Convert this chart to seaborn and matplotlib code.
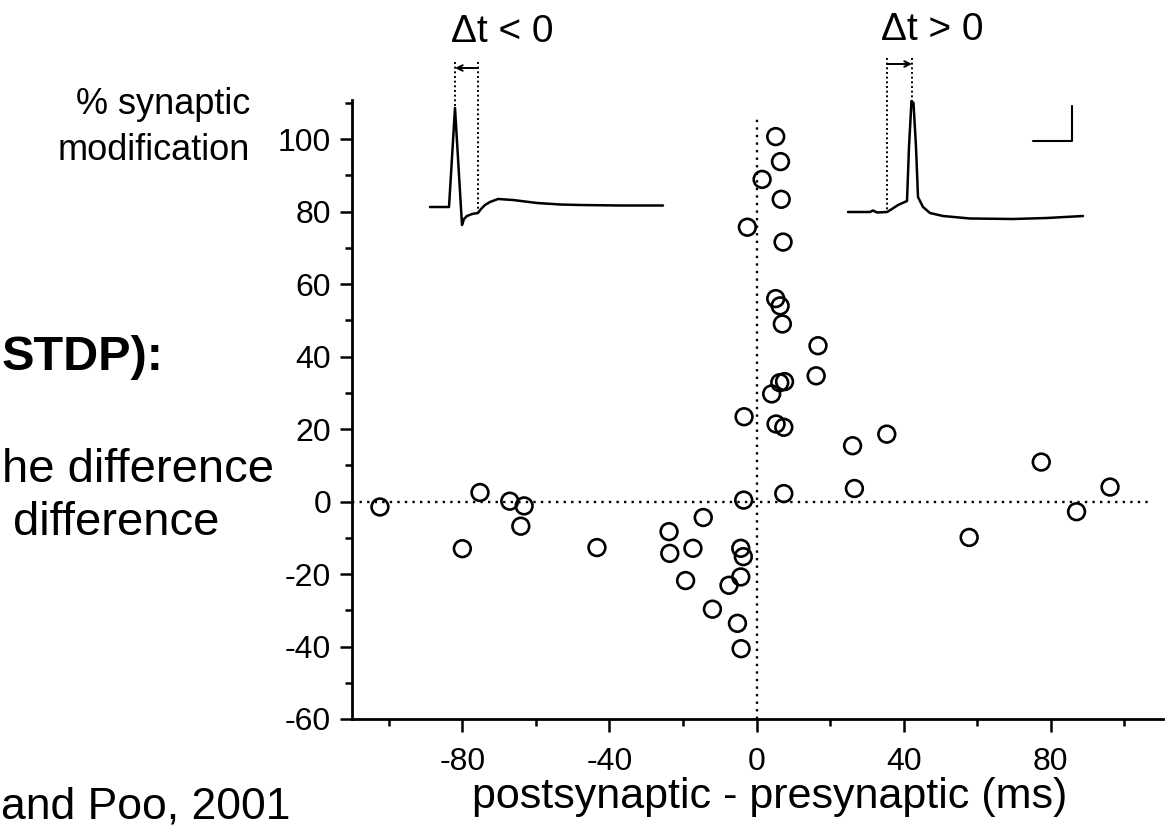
import numpy as np
import pandas as pd
import matplotlib
matplotlib.use('Agg')
import matplotlib.pyplot as plt
import seaborn as sns
from matplotlib.ticker import MultipleLocator

# spike timing (post - pre, ms) and % synaptic modification for each cell
delta_t = [-102.4, -80.0, -75.2, -67.1, -63.2, -64.1, -43.4, -23.8, -23.6, -17.3,
           -14.5, -19.3, -12.0, -7.5, -4.3, -4.3, -3.6, -5.2, -4.2, -3.5,
           -3.4, -2.5, 5.2, 6.5, 1.5, 6.7, 7.2, 5.2, 6.4, 7.0,
           16.7, 16.2, 6.3, 7.6, 4.1, 5.3, 7.4, 26.1, 35.4, 77.4,
           96.1, 26.6, 7.4, 87.0, 57.8]
modification = [-1.5, -13.0, 2.5, 0.1, -1.2, -6.8, -12.7, -8.3, -14.3, -12.9,
                -4.4, -21.8, -29.7, -23.1, -20.8, -12.9, -15.2, -33.6, -40.6, 0.4,
                23.4, 75.7, 100.7, 93.8, 88.9, 83.4, 71.6, 56.0, 54.0, 49.0,
                43.0, 34.7, 32.8, 33.1, 29.7, 21.4, 20.5, 15.4, 18.6, 10.9,
                4.0, 3.6, 2.2, -2.8, -9.9]

# example traces drawn above the scatter (figure pixel units)
ltd_trace_x = [430, 449, 455, 462, 464, 467, 472, 478, 481, 485, 490, 498, 513, 537, 560, 580, 620, 663]
ltd_trace_y = [207, 207, 108, 225, 219, 216, 214, 213, 209, 205, 202, 199, 200, 203, 204.5, 205, 205.5, 205.5]
ltp_trace_x = [848, 870, 873, 877, 887, 892, 898, 907, 909, 911.5, 913.5, 916, 918, 923, 930, 943, 970, 1013, 1047, 1083]
ltp_trace_y = [212, 212, 210.5, 212.5, 212, 209, 205, 201, 147, 101, 103, 147, 197, 207, 213, 216, 218.5, 219, 218, 216]
ltd_marks = [(455, 62, 108), (478, 62, 213)]
ltp_marks = [(887, 58, 212), (912, 58, 101)]
scale_bar_x = [1033, 1072, 1072]
scale_bar_y = [141, 141, 106]

W, H = 1167, 827

sns.set_style('ticks')
plt.rcParams['font.family'] = ['Liberation Sans', 'DejaVu Sans']
plt.rcParams['axes.unicode_minus'] = False
plt.rcParams['text.color'] = 'black'
plt.rcParams['axes.labelcolor'] = 'black'
plt.rcParams['xtick.color'] = 'black'
plt.rcParams['ytick.color'] = 'black'

fig = plt.figure(figsize=(W / 100, H / 100), dpi=100)
ax = fig.add_axes([352 / W, 108 / H, 811 / W, 619 / H])

df = pd.DataFrame({'dt': delta_t, 'mod': modification})
sns.scatterplot(data=df, x='dt', y='mod', ax=ax, marker='o', s=145,
                facecolors='none', edgecolor='black', linewidth=1.9, zorder=3)

dots = (0, (1, 2.2))
ax.axhline(0, color='black', lw=1.7, ls=dots, xmax=0.985, zorder=2)
ax.axvline(0, color='black', lw=1.7, ls=dots, ymax=(106 + 60) / 170.8, zorder=2)

ax.set_xlim(-110, 110.5)
ax.set_ylim(-60, 110.8)
ax.xaxis.set_major_locator(MultipleLocator(40))
ax.xaxis.set_minor_locator(MultipleLocator(20))
ax.yaxis.set_major_locator(MultipleLocator(20))
ax.yaxis.set_minor_locator(MultipleLocator(10))
ax.tick_params(which='major', direction='out', length=9, width=1.8, labelsize=23)
ax.tick_params(axis='x', which='major', pad=11)
ax.tick_params(axis='y', which='major', pad=6)
ax.tick_params(which='minor', direction='out', length=5, width=1.8)
sns.despine(ax=ax)
for s in ['left', 'bottom']:
    ax.spines[s].set_linewidth(2.0)
    ax.spines[s].set_color('black')
ax.set_xlabel('postsynaptic - presynaptic (ms)', fontsize=31, labelpad=0)
ax.xaxis.label.set_x(0.515)
ax.set_ylabel('')

# overlay in figure pixels for the example traces
ov = fig.add_axes([0, 0, 1, 1], facecolor='none')
ov.set_xlim(0, W)
ov.set_ylim(H, 0)
ov.axis('off')
sns.lineplot(x=ltd_trace_x, y=ltd_trace_y, sort=False, estimator=None, ax=ov, color='black', lw=1.8)
sns.lineplot(x=ltp_trace_x, y=ltp_trace_y, sort=False, estimator=None, ax=ov, color='black', lw=1.8)
for xm, y0, y1 in ltd_marks + ltp_marks:
    ov.plot([xm, xm], [y0, y1], color='black', lw=1.4, ls=(0, (1, 1.4)))
ov.plot(scale_bar_x, scale_bar_y, color='black', lw=1.5)
ov.annotate('', xy=(ltd_marks[0][0], 68), xytext=(ltd_marks[1][0], 68),
            arrowprops=dict(arrowstyle='->', color='black', lw=1.4, shrinkA=0, shrinkB=0))
ov.annotate('', xy=(ltp_marks[1][0], 64), xytext=(ltp_marks[0][0], 64),
            arrowprops=dict(arrowstyle='->', color='black', lw=1.4, shrinkA=0, shrinkB=0))

fig.text(502 / W, 1 - 32 / H, '\u0394t < 0', fontsize=28, ha='center', va='center')
fig.text(932 / W, 1 - 30 / H, '\u0394t > 0', fontsize=28, ha='center', va='center')

fig.text(250 / W, 1 - 104 / H, '% synaptic', fontsize=26, ha='right', va='center')
fig.text(250 / W, 1 - 151 / H, 'modification', fontsize=26, ha='right', va='center')
fig.text(2 / W, 1 - 370 / H, 'STDP):', fontsize=35, fontweight='bold', ha='left', va='baseline')
fig.text(2 / W, 1 - 482 / H, 'he difference', fontsize=34, ha='left', va='baseline')
fig.text(219 / W, 1 - 535 / H, 'difference', fontsize=34, ha='right', va='baseline')
fig.text(290 / W, 1 - 818 / H, 'and Poo, 2001', fontsize=32, ha='right', va='baseline')

fig.savefig('out.png', dpi=100, facecolor='white')
